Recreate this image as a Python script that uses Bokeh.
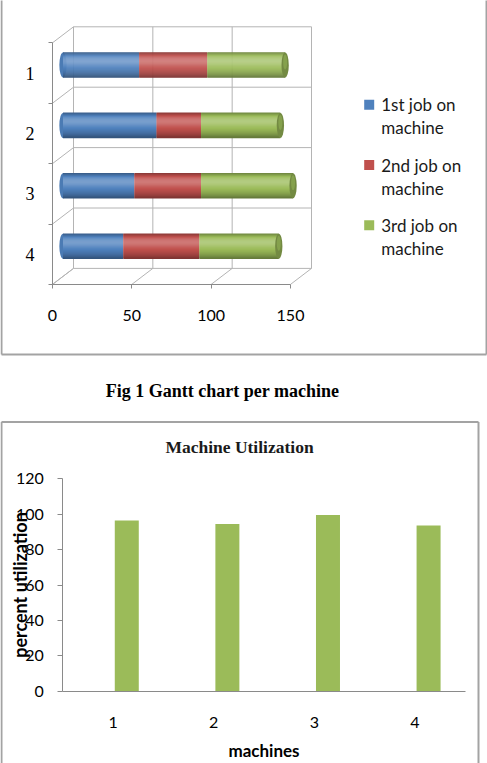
from bokeh.plotting import figure
from bokeh.models import Range1d, LinearAxis, FixedTicker, ColumnDataSource
from bokeh.layouts import column
from bokeh.transform import dodge
from bokeh.core.properties import value
from bokeh.embed import file_html
from bokeh.resources import INLINE

# ---------------- data ----------------
machines = [1, 2, 3, 4]
job1 = [48, 59, 45, 38]          # duration of the 1st job on each machine
job2 = [43, 28, 42, 48]          # duration of the 2nd job
job3 = [49, 50, 58, 50]          # duration of the 3rd job
job_labels = ["1st job on machine", "2nd job on machine", "3rd job on machine"]
gantt_ticks = [0, 50, 100, 150]

utilization = [96.4, 94.4, 99.6, 93.6]
util_ticks = [0, 20, 40, 60, 80, 100, 120]

caption = "Fig 1 Gantt chart per machine"
util_title = "Machine Utilization"

# ---------------- style ----------------
BLUE, RED, GREEN = "#4F81BD", "#C0504D", "#9BBB59"
GRID = "#b4b4b4"
AXIS = "#8a8a8a"
BOX = "#a3a3a3"
SANS = "Lato"
SERIF = "Liberation Serif"


def shade(c, f):
    r, g, b = (int(c[i:i + 2], 16) for i in (1, 3, 5))
    if f >= 1:
        t = f - 1
        r, g, b = (round(v + (255 - v) * t) for v in (r, g, b))
    else:
        r, g, b = (round(v * f) for v in (r, g, b))
    return "#%02x%02x%02x" % (r, g, b)


# cylinder shading key points (top -> bottom), resampled into thin strips
KEYS = [0.74, 0.92, 1.12, 1.22, 1.24, 1.18, 1.08, 1.0, 0.94, 0.87, 0.78, 0.66]
N_STRIPS = 25
PROFILE = []
for k in range(N_STRIPS):
    t = k / (N_STRIPS - 1) * (len(KEYS) - 1)
    i = min(int(t), len(KEYS) - 2)
    PROFILE.append(KEYS[i] + (KEYS[i + 1] - KEYS[i]) * (t - i))

W = 487

# ======================= Gantt chart (pseudo 3-D cylinders) =======================
HT = 356
GX0, GXS = 52.0, 238.0 / 150      # pixel of value 0 on the front plane, pixels per unit
GY1, GYS = 72.5, 60.4             # pixel of row 1 on the front plane, pixels per row


def gx(px):
    return (px - GX0) / GXS


def gy(py):
    return 1 + (py - GY1) / GYS


DX = 21 / GXS                     # depth of the chart box, along x
DY = -16 / GYS                    # depth of the chart box, along y
XM, YM = DX / 2, DY / 2           # bars sit half way into the box
BAR_H = 25 / GYS
CAP_W = 7.3 / GXS

top = figure(width=W, height=HT, x_range=Range1d(gx(0), gx(W)),
             y_range=Range1d(gy(HT), gy(0)), x_axis_type=None, y_axis_type=None,
             output_backend="svg", toolbar_location=None, min_border=0,
             outline_line_color=None, background_fill_color="white",
             border_fill_color="white")

xmax = gantt_ticks[-1]
edges = [m - 0.5 for m in machines] + [machines[-1] + 0.5]

# back wall
top.segment(x0=[DX] * len(edges), y0=[e + DY for e in edges],
            x1=[xmax + DX] * len(edges), y1=[e + DY for e in edges],
            line_color=GRID, line_width=1)
top.segment(x0=[t + DX for t in gantt_ticks], y0=[edges[0] + DY] * len(gantt_ticks),
            x1=[t + DX for t in gantt_ticks], y1=[edges[-1] + DY] * len(gantt_ticks),
            line_color=GRID, line_width=1)
# side wall and floor
top.segment(x0=[0] * len(edges), y0=edges, x1=[DX] * len(edges),
            y1=[e + DY for e in edges], line_color=GRID, line_width=1)
top.segment(x0=gantt_ticks, y0=[edges[-1]] * len(gantt_ticks),
            x1=[t + DX for t in gantt_ticks], y1=[edges[-1] + DY] * len(gantt_ticks),
            line_color=GRID, line_width=1)

# stacked cylinders
starts = [0] * len(machines)
strip = BAR_H / len(PROFILE)
for j, (vals, col) in enumerate(zip([job1, job2, job3], [BLUE, RED, GREEN])):
    ends = [s + v for s, v in zip(starts, vals)]
    src = ColumnDataSource(dict(y=machines, left=[s + XM for s in starts],
                                right=[e + XM for e in ends]))
    if j == 0:
        top.ellipse(x="left", y=dodge("y", YM), width=CAP_W, height=BAR_H,
                    fill_color=shade(col, 0.95), line_color=None, source=src)
    for k, f in enumerate(PROFILE):
        off = YM - BAR_H / 2 + (k + 0.5) * strip
        top.hbar(y=dodge("y", off), left="left", right="right", height=strip * 1.6,
                 fill_color=shade(col, f), line_color=None, source=src)
    if j == 2:
        top.ellipse(x="right", y=dodge("y", YM), width=CAP_W, height=BAR_H,
                    fill_color=shade(col, 0.74), line_color=None, source=src)
        top.ellipse(x="right", y=dodge("y", YM - BAR_H * 0.12), width=CAP_W * 0.55,
                    height=BAR_H * 0.6, fill_color=shade(col, 0.86), line_color=None,
                    source=src)
    starts = ends

# axes on the front edges of the box
xa = LinearAxis(fixed_location=edges[-1], bounds=(0, xmax),
                ticker=FixedTicker(ticks=gantt_ticks, minor_ticks=[]))
xa.axis_line_color = AXIS
xa.major_tick_line_color = AXIS
xa.major_tick_out = 4
xa.major_tick_in = 0
xa.minor_tick_line_color = None
xa.major_label_standoff = 22
xa.major_label_text_font = SANS
xa.major_label_text_font_size = "16px"
xa.major_label_text_color = "black"
top.add_layout(xa, "below")

ya = LinearAxis(fixed_location=0, bounds=(edges[0], edges[-1]),
                ticker=FixedTicker(ticks=machines, minor_ticks=edges))
ya.axis_line_color = AXIS
ya.major_tick_line_color = None
ya.major_tick_out = 0
ya.major_tick_in = 0
ya.minor_tick_line_color = AXIS
ya.minor_tick_out = 4
ya.minor_tick_in = 0
ya.major_label_standoff = 14
ya.major_label_text_font = SERIF
ya.major_label_text_font_size = "18px"
ya.major_label_text_color = "black"
top.add_layout(ya, "left")

# legend
leg_px, leg_py = 368.7, [104.3, 164.5, 224.8]
top.scatter(x=[gx(leg_px)] * 3, y=[gy(p) for p in leg_py], marker="square", size=10,
            fill_color=[BLUE, RED, GREEN], line_color=None)
for lab, p in zip(job_labels, leg_py):
    first, second = lab.rsplit(" ", 1)
    top.text(x=[gx(380.7)] * 2, y=[gy(p), gy(p + 23)], text=[first, second],
             text_align="left", text_baseline="middle", text_font=value(SANS),
             text_font_size="17px", text_color="#1a1a1a")

# frame of the figure box
top.segment(x0=[gx(1), gx(486), gx(1)], y0=[gy(-5), gy(-5), gy(354)],
            x1=[gx(1), gx(486), gx(486)], y1=[gy(354), gy(354), gy(354)],
            line_color=BOX, line_width=2)

# ======================= utilization bar chart =======================
HB = 407
BX0, BXS = 12.0, 100.6            # pixel of category 0, pixels per category
BY0, BYS = 334.7, 212.4 / 120     # pixel of 0 %, pixels per percent


def bx(px):
    return (px - BX0) / BXS


def by(py):
    return (BY0 - py) / BYS


bot = figure(width=W, height=HB, x_range=Range1d(bx(0), bx(W)),
             y_range=Range1d(by(HB), by(0)), x_axis_type=None, y_axis_type=None,
             output_backend="svg", toolbar_location=None, min_border=0,
             outline_line_color=None, background_fill_color="white",
             border_fill_color="white")

usrc = ColumnDataSource(dict(x=machines, u=utilization))
bot.vbar(x=dodge("x", 0.136), top="u", width=24 / BXS, fill_color=GREEN,
         line_color=None, source=usrc)

bya = LinearAxis(fixed_location=machines[0] - 0.5, bounds=(util_ticks[0], util_ticks[-1]),
                 ticker=FixedTicker(ticks=util_ticks, minor_ticks=[]))
bya.axis_line_color = AXIS
bya.major_tick_line_color = AXIS
bya.major_tick_out = 5
bya.major_tick_in = 0
bya.minor_tick_line_color = None
bya.major_label_standoff = 14
bya.major_label_text_font = SANS
bya.major_label_text_font_size = "16px"
bya.major_label_text_color = "black"
bya.axis_label = "percent utilization"
bya.axis_label_text_font = SANS
bya.axis_label_text_font_style = "bold"
bya.axis_label_text_font_size = "18px"
bya.axis_label_text_color = "black"
bya.axis_label_standoff = -18
bot.add_layout(bya, "left")

bxa = LinearAxis(fixed_location=0, bounds=(machines[0] - 0.5, machines[-1] + 0.5),
                 ticker=FixedTicker(ticks=machines, minor_ticks=[]))
bxa.axis_line_color = AXIS
bxa.major_tick_line_color = None
bxa.major_tick_out = 0
bxa.major_tick_in = 0
bxa.minor_tick_line_color = None
bxa.major_label_standoff = 26
bxa.major_label_text_font = SANS
bxa.major_label_text_font_size = "16px"
bxa.major_label_text_color = "black"
bxa.axis_label = "machines"
bxa.axis_label_text_font = SANS
bxa.axis_label_text_font_style = "bold"
bxa.axis_label_text_font_size = "17px"
bxa.axis_label_text_color = "black"
bxa.axis_label_standoff = 8
bot.add_layout(bxa, "below")

bot.text(x=[bx(222)], y=[by(34.7)], text=[caption], text_align="center",
         text_baseline="middle", text_font=value(SERIF), text_font_style="bold",
         text_font_size="18px", text_color="black")
bot.text(x=[bx(239)], y=[by(90.7)], text=[util_title], text_align="center",
         text_baseline="middle", text_font=value(SERIF), text_font_style="bold",
         text_font_size="17.5px", text_color="#1a1a1a")

# frame of the figure box
bot.segment(x0=[bx(1), bx(478), bx(1)], y0=[by(65.5), by(65.5), by(65.5)],
            x1=[bx(1), bx(478), bx(478)], y1=[by(HB + 5), by(HB + 5), by(65.5)],
            line_color=BOX, line_width=2)

page = column(top, bot, spacing=0)
open("out.html", "w").write(file_html(page, INLINE))
